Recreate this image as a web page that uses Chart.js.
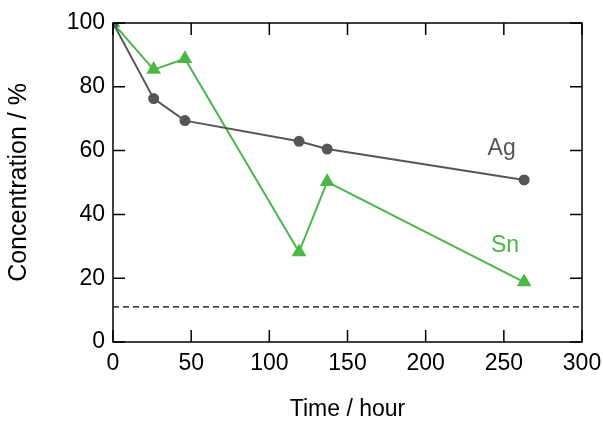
<!DOCTYPE html>
<html>
<head>
<meta charset="utf-8">
<script src="https://cdn.jsdelivr.net/npm/chart.js@4/dist/chart.umd.min.js"></script>
<style>
  html, body { margin: 0; padding: 0; background: #fff; }
  #wrap { width: 603px; height: 423px; }
</style>
</head>
<body>
<div id="wrap"><canvas id="chart"></canvas></div>
<script>
const timeAg = [0, 26, 46, 119, 137, 263];
const concAg = [100, 76.3, 69.4, 62.9, 60.5, 50.8];
const timeSn = [0, 26, 46, 119, 137, 263];
const concSn = [100, 85.4, 88.8, 28.2, 50.2, 18.8];
const limitLevel = 11;
const xTicks = [0, 50, 100, 150, 200, 250, 300];
const yTicks = [0, 20, 40, 60, 80, 100];

const grey = '#565658';
const green = '#4cb648';
const font = 'Liberation Sans, Arial, Helvetica, sans-serif';

const toPoints = (xs, ys) => xs.map((x, i) => ({ x: x, y: ys[i] }));

// border box + inward ticks on all four sides, and the series labels
const framePlugin = {
    id: 'frame',
    afterDatasetsDraw(chart) {
        const { ctx, chartArea: a, scales: { x, y } } = chart;
        const len = 12;
        ctx.save();
        ctx.strokeStyle = '#000';
        ctx.lineWidth = 1.5;
        ctx.strokeRect(a.left, a.top, a.right - a.left, a.bottom - a.top);
        ctx.beginPath();
        xTicks.forEach(v => {
            const px = x.getPixelForValue(v);
            ctx.moveTo(px, a.bottom); ctx.lineTo(px, a.bottom - len);
            ctx.moveTo(px, a.top); ctx.lineTo(px, a.top + len);
        });
        yTicks.forEach(v => {
            const py = y.getPixelForValue(v);
            ctx.moveTo(a.left, py); ctx.lineTo(a.left + len, py);
            ctx.moveTo(a.right, py); ctx.lineTo(a.right - len, py);
        });
        ctx.stroke();

        ctx.font = '23px ' + font;
        ctx.textAlign = 'center';
        ctx.textBaseline = 'middle';
        ctx.fillStyle = grey;
        ctx.fillText('Ag', x.getPixelForValue(248.6), y.getPixelForValue(60.6));
        ctx.fillStyle = green;
        ctx.fillText('Sn', x.getPixelForValue(250.8), y.getPixelForValue(30.2));
        ctx.restore();
    }
};

new Chart(document.getElementById('chart'), {
    type: 'scatter',
    data: {
        datasets: [
            {
                label: 'limit',
                data: [{ x: 0, y: limitLevel }, { x: 300, y: limitLevel }],
                showLine: true,
                borderColor: '#000',
                borderWidth: 1.2,
                borderDash: [6, 4],
                pointRadius: 0
            },
            {
                label: 'Ag',
                data: toPoints(timeAg, concAg),
                showLine: true,
                borderColor: grey,
                backgroundColor: grey,
                borderWidth: 2,
                pointRadius: 4.5,
                pointStyle: 'circle'
            },
            {
                label: 'Sn',
                data: toPoints(timeSn, concSn),
                showLine: true,
                borderColor: green,
                backgroundColor: green,
                borderWidth: 2,
                pointRadius: 6.5,
                pointStyle: 'triangle'
            }
        ]
    },
    options: {
        responsive: true,
        maintainAspectRatio: false,
        animation: false,
        layout: { padding: { top: 23, right: 21, left: 0, bottom: 0 } },
        plugins: { legend: { display: false }, tooltip: { enabled: false } },
        scales: {
            x: {
                type: 'linear',
                min: 0, max: 300,
                afterBuildTicks: s => { s.ticks = xTicks.map(v => ({ value: v })); },
                afterFit: s => { s.height = 81; },
                grid: { display: false, drawTicks: true, tickLength: 8 },
                border: { display: false },
                ticks: { color: '#000', padding: 0, font: { family: font, size: 23 } },
                title: {
                    display: true,
                    text: 'Time / hour',
                    color: '#000',
                    font: { family: font, size: 23 },
                    padding: { top: 4, bottom: 0 }
                }
            },
            y: {
                type: 'linear',
                min: 0, max: 100,
                afterBuildTicks: s => { s.ticks = yTicks.map(v => ({ value: v })); },
                afterFit: s => { s.width = 113; },
                grid: { display: false, drawTicks: false },
                border: { display: false },
                ticks: { color: '#000', padding: 8, font: { family: font, size: 23 } },
                title: {
                    display: true,
                    text: 'Concentration / %',
                    color: '#000',
                    font: { family: font, size: 25 },
                    padding: { top: 4, bottom: 4 }
                }
            }
        }
    },
    plugins: [framePlugin]
});
</script>
</body>
</html>
